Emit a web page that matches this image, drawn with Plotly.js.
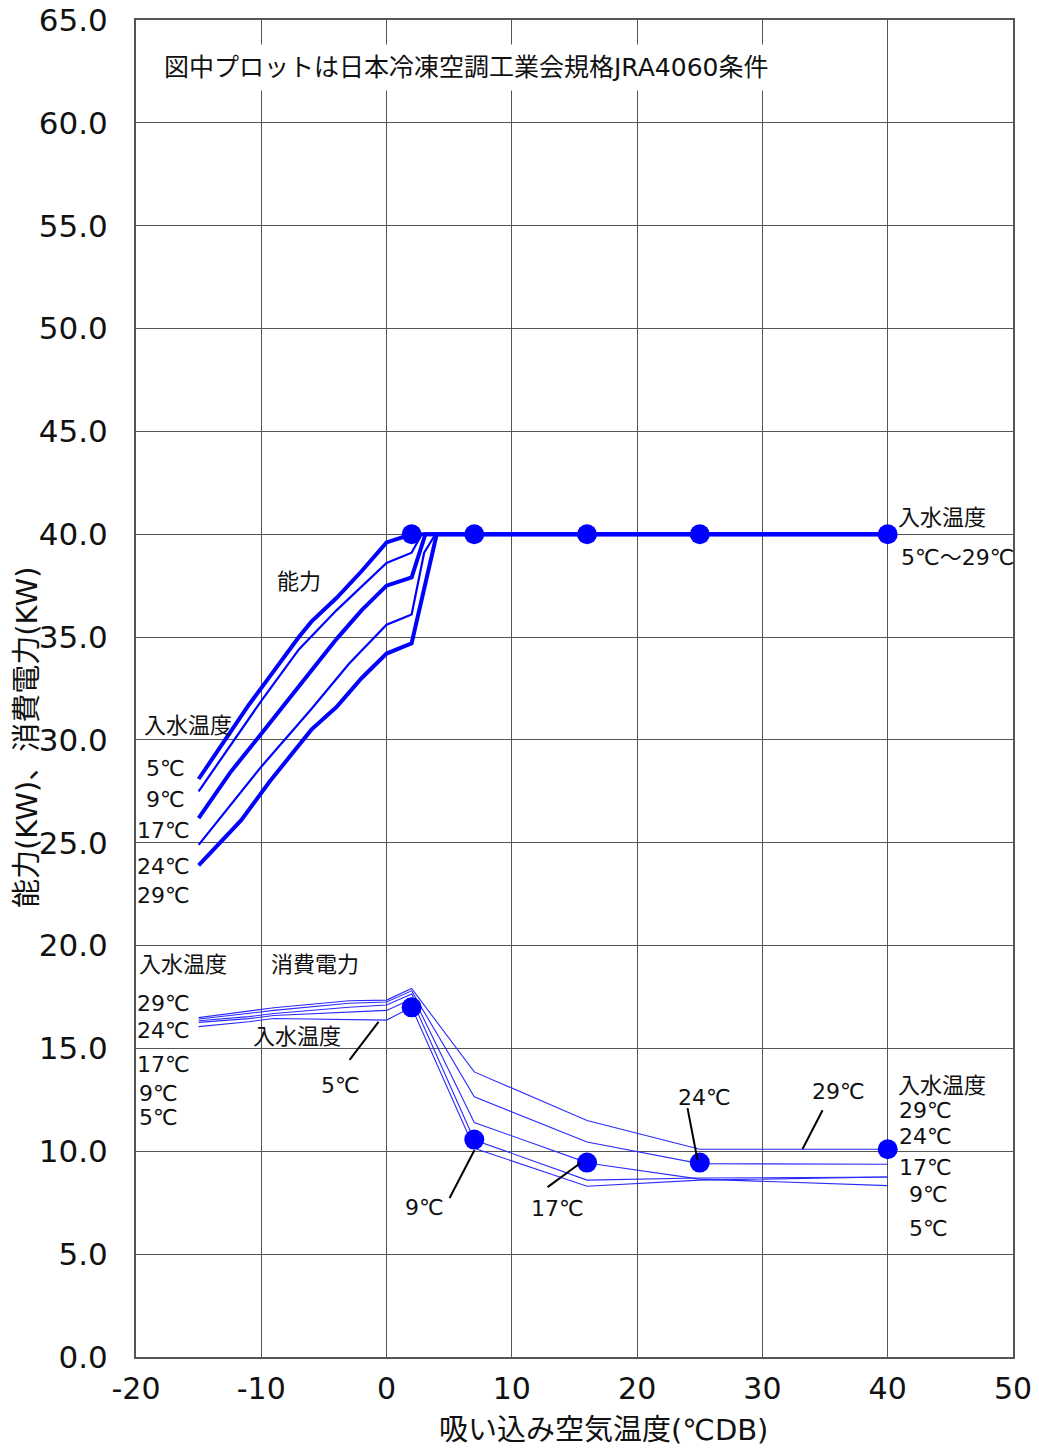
<!DOCTYPE html>
<html>
<head>
<meta charset="utf-8">
<script src="https://cdn.plot.ly/plotly-3.0.1.min.js"></script>
<style>html,body{margin:0;padding:0;background:#fff;}#chart{width:1039px;height:1448px;}</style>
</head>
<body>
<div id="chart"></div>
<script>
// ---- Capacity (能力) curves by inlet water temperature ----
var cap_x_5  = [-15, -12.5, -11, -9.3, -8, -7, -6, -4, -2, 0, 2, 40];
var cap_y_5  = [28.1, 30.3, 31.7, 33.1, 34.2, 35.0, 35.75, 36.9, 38.2, 39.6, 40, 40];
var cap_x_9  = [-15, -10, -7, -4, 0, 2, 2.8, 40];
var cap_y_9  = [27.5, 31.9, 34.4, 36.3, 38.6, 39.1, 40, 40];
var cap_x_17 = [-15, -12.5, -10, -7, -4, -2, 0, 2, 3.1, 40];
var cap_y_17 = [26.2, 28.4, 30.3, 32.6, 34.9, 36.3, 37.5, 37.9, 40, 40];
var cap_x_24 = [-15, -10, -6, -3, 0, 2, 3, 3.9, 40];
var cap_y_24 = [24.9, 28.7, 31.5, 33.7, 35.6, 36.1, 39.1, 40, 40];
var cap_x_29 = [-15, -11.6, -9.3, -6, -4, -2, 0, 2, 4, 40];
var cap_y_29 = [23.9, 26.1, 28.0, 30.5, 31.6, 33.0, 34.2, 34.7, 40, 40];

// ---- Power consumption (消費電力) curves ----
var pw_x     = [-15, -11, -9, -3, 0, 2, 7, 16, 25, 40];
var pw_y_29  = [16.5, 16.82, 16.98, 17.32, 17.35, 17.92, 13.86, 11.5, 10.1, 10.1];
var pw_y_24  = [16.43, 16.7, 16.85, 17.2, 17.26, 17.8, 12.65, 10.45, 9.4, 9.37];
var pw_x_17  = [-15, -11, -9, -3, 0, 2, 7, 16, 17, 25, 40];
var pw_y_17  = [16.35, 16.55, 16.7, 17.0, 17.11, 17.65, 11.4, 9.45, 9.35, 8.65, 8.33];
var pw_y_9   = [16.27, 16.45, 16.6, 16.75, 16.85, 17.4, 10.55, 8.6, 8.7, 8.75];
var pw_y_5   = [16.06, 16.3, 16.46, 16.4, 16.38, 17.0, 10.15, 8.3, 8.6, 8.75];

// ---- JRA4060 plot points ----
var cap_mark_x = [2, 7, 16, 25, 40];
var cap_mark_y = [40, 40, 40, 40, 40];
var pw_mark_x  = [2, 7, 16, 25, 40];
var pw_mark_y  = [17.0, 10.57, 9.45, 9.45, 10.1];

// ---- Tick values / labels ----
var x_ticks = [-20, -10, 0, 10, 20, 30, 40, 50];
var y_ticks = [0, 5, 10, 15, 20, 25, 30, 35, 40, 45, 50, 55, 60, 65];
var y_tick_labels = y_ticks.map(function(v){ return v.toFixed(1); });

var x_title = '吸い込み空気温度(℃DB)';
var y_title = '能力(KW)、消費電力(KW)';

var BLUE = '#0000ff';
var FONT = 'DejaVu Sans, Noto Sans CJK JP, sans-serif';

function line(x, y, w, c) {
  return {x: x, y: y, type: 'scatter', mode: 'lines', hoverinfo: 'skip',
          line: {color: c || BLUE, width: w}, showlegend: false};
}

var traces = [
  line(cap_x_5, cap_y_5, 4),
  line(cap_x_9, cap_y_9, 2.2),
  line(cap_x_17, cap_y_17, 4),
  line(cap_x_24, cap_y_24, 2.2),
  line(cap_x_29, cap_y_29, 4),
  line(pw_x, pw_y_29, 1.1, '#2a2aff'),
  line(pw_x, pw_y_24, 1.1, '#2a2aff'),
  line(pw_x_17, pw_y_17, 1.1, '#2a2aff'),
  line(pw_x, pw_y_9, 1.1, '#2a2aff'),
  line(pw_x, pw_y_5, 1.1, '#2a2aff'),
  {x: cap_mark_x, y: cap_mark_y, type: 'scatter', mode: 'markers', showlegend: false,
   marker: {color: BLUE, size: 20}},
  {x: pw_mark_x, y: pw_mark_y, type: 'scatter', mode: 'markers', showlegend: false,
   marker: {color: BLUE, size: 20}}
];

function ann(text, x, y, opts) {
  var a = {text: text, x: x, y: y, xref: 'x', yref: 'y', showarrow: false,
           font: {family: FONT, size: 22, color: '#111'}};
  for (var k in opts) a[k] = opts[k];
  return a;
}

var annotations = [
  ann('図中プロットは日本冷凍空調工業会規格JRA4060条件', -18.52, 62.67,
      {xanchor: 'left', bgcolor: '#ffffff', borderpad: 8,
       font: {family: FONT, size: 25, color: '#111'}}),
  ann('能力', -7.02, 37.68),
  ann('入水温度', -15.88, 30.68),
  ann('5℃', -17.64, 28.63),
  ann('9℃', -17.64, 27.08),
  ann('17℃', -17.8, 25.62),
  ann('24℃', -17.8, 23.87),
  ann('29℃', -17.8, 22.46),
  ann('入水温度', 44.37, 40.79),
  ann('5℃～29℃', 45.57, 38.89),
  ann('入水温度', -16.28, 19.06),
  ann('消費電力', -5.75, 19.06),
  ann('29℃', -17.8, 17.21),
  ann('24℃', -17.8, 15.85),
  ann('17℃', -17.8, 14.24),
  ann('9℃', -18.2, 12.83),
  ann('5℃', -18.2, 11.62),
  ann('入水温度', -7.18, 15.56),
  ann('5℃', -3.67, 13.22),
  ann('9℃', 3.03, 7.29),
  ann('17℃', 13.65, 7.24),
  ann('24℃', 25.38, 12.64),
  ann('29℃', 36.07, 12.93),
  ann('入水温度', 44.37, 13.22),
  ann('29℃', 43.02, 11.96),
  ann('24℃', 43.02, 10.74),
  ann('17℃', 43.02, 9.19),
  ann('9℃', 43.26, 7.88),
  ann('5℃', 43.26, 6.27),
  // axis titles, placed where the reference draws them
  {text: x_title, xref: 'paper', yref: 'paper', x: 0.5336, y: -0.0546,
   xanchor: 'center', yanchor: 'middle', showarrow: false,
   font: {family: FONT, size: 29, color: '#111'}},
  {text: y_title, xref: 'paper', yref: 'paper', x: -0.1243, y: 0.4637,
   xanchor: 'center', yanchor: 'middle', showarrow: false, textangle: -90,
   font: {family: FONT, size: 29, color: '#111'}}
];

function leader(x0, y0, x1, y1) {
  return {type: 'line', xref: 'x', yref: 'y', x0: x0, y0: y0, x1: x1, y1: y1,
          line: {color: '#000', width: 2}};
}
var shapes = [
  leader(-2.95, 14.44, -0.64, 16.29),
  leader(5.03, 7.73, 7.02, 10.06),
  leader(12.85, 8.26, 15.48, 9.43),
  leader(24.02, 12.1, 24.82, 9.58),
  leader(34.8, 12.0, 33.2, 10.11)
];

var layout = {
  width: 1039, height: 1448,
  margin: {l: 136, r: 26, t: 20, b: 91},
  paper_bgcolor: '#fff', plot_bgcolor: '#fff',
  showlegend: false,
  font: {family: FONT, color: '#111'},
  xaxis: {
    range: [-20, 50], tickvals: x_ticks, ticktext: x_ticks.map(String),
    showgrid: true, gridcolor: '#555', gridwidth: 1, zeroline: false,
    showline: true, linecolor: '#555', linewidth: 2, mirror: true,
    ticks: '', tickfont: {family: FONT, size: 30, color: '#111'},
    ticklabelstandoff: 4,
    title: {text: ''}
  },
  yaxis: {
    range: [0, 65], tickvals: y_ticks, ticktext: y_tick_labels,
    showgrid: true, gridcolor: '#555', gridwidth: 1, zeroline: false,
    showline: true, linecolor: '#555', linewidth: 2, mirror: true,
    ticks: '', tickfont: {family: FONT, size: 31, color: '#111'},
    ticklabelstandoff: 20,
    title: {text: ''}
  },
  annotations: annotations,
  shapes: shapes
};

Plotly.newPlot('chart', traces, layout, {staticPlot: true, displayModeBar: false});
</script>
</body>
</html>
